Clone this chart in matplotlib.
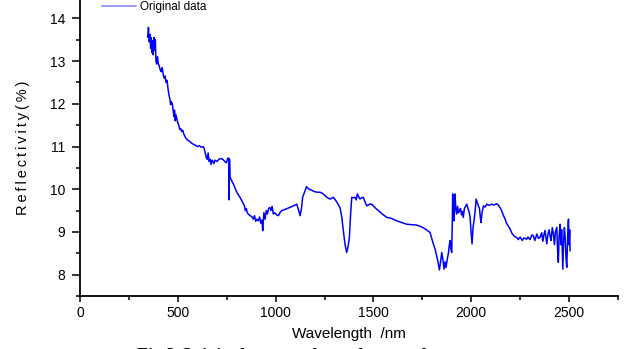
import matplotlib
matplotlib.use("Agg")
import matplotlib.pyplot as plt
from matplotlib.ticker import MultipleLocator

plt.rcParams['font.family'] = ['Liberation Sans', 'DejaVu Sans']

wavelength = [346, 350, 354, 358, 361, 364, 367, 370, 374, 378, 381, 385, 388, 392, 396, 400,
              405, 410, 415, 420, 425, 430, 435, 440, 445, 450, 455, 460, 463, 467, 472, 476,
              480, 483, 487, 490, 495, 500, 505, 510, 515, 520, 525, 530, 540, 550, 560, 570,
              580, 590, 600, 610, 620, 630, 635, 640, 645, 650, 655, 660, 665, 670, 675, 680,
              685, 690, 700, 710, 720, 730, 740, 748, 755, 760, 762, 764, 767, 775, 784, 795,
              805, 818, 830, 840, 845, 850, 855, 860, 870, 880, 886, 892, 898, 905, 912, 918,
              925, 930, 934, 940, 946, 952, 958, 964, 971, 976, 982, 988, 995, 1005, 1014, 1022,
              1031, 1050, 1070, 1091, 1108, 1118, 1125, 1132, 1138, 1145, 1158, 1170, 1183, 1200,
              1215, 1227, 1240, 1253, 1265, 1278, 1295, 1310, 1329, 1338, 1346, 1355, 1363, 1370,
              1377, 1383, 1389, 1397, 1406, 1412, 1418, 1425, 1431, 1440, 1448, 1457, 1466, 1480,
              1491, 1505, 1525, 1545, 1568, 1590, 1619, 1645, 1670, 1695, 1721, 1745, 1764, 1780,
              1789, 1798, 1806, 1815, 1823, 1830, 1837, 1843, 1849, 1855, 1861, 1866, 1871, 1877,
              1883, 1888, 1892, 1896, 1900, 1903, 1905, 1908, 1912, 1915, 1917, 1921, 1925, 1930,
              1935, 1939, 1945, 1950, 1955, 1959, 1965, 1971, 1977, 1983, 1990, 1994, 1999, 2004,
              2009, 2014, 2020, 2025, 2030, 2036, 2042, 2046, 2050, 2055, 2062, 2070, 2079, 2090,
              2104, 2115, 2130, 2140, 2147, 2155, 2163, 2173, 2180, 2188, 2198, 2210, 2220, 2232,
              2240, 2250, 2260, 2270, 2283, 2290, 2300, 2310, 2317, 2325, 2335, 2343, 2351, 2360,
              2366, 2372, 2377, 2382, 2386, 2392, 2398, 2403, 2408, 2414, 2420, 2425, 2430, 2437,
              2441, 2445, 2449, 2454, 2458, 2462, 2468, 2472, 2476, 2480, 2484, 2488, 2492, 2495,
              2497, 2500, 2503, 2505]

reflectivity = [13.56, 13.79, 13.45, 13.62, 13.30, 13.55, 13.20, 13.48, 13.15, 13.55, 13.25, 13.50,
                13.00, 12.93, 13.10, 12.95, 12.88, 12.80, 12.75, 12.85, 12.70, 12.60, 12.65, 12.50,
                12.55, 12.35, 12.20, 12.10, 11.98, 12.05, 12.00, 11.85, 11.70, 11.85, 11.60, 11.75,
                11.65, 11.55, 11.50, 11.40, 11.42, 11.35, 11.38, 11.30, 11.20, 11.15, 11.12, 11.08,
                11.05, 11.03, 11.00, 11.02, 10.98, 11.00, 10.95, 10.85, 10.75, 10.70, 10.85, 10.65,
                10.70, 10.58, 10.68, 10.65, 10.60, 10.68, 10.65, 10.70, 10.72, 10.70, 10.65, 10.62,
                10.72, 10.73, 9.75, 10.70, 10.28, 10.20, 10.12, 10.00, 9.90, 9.81, 9.70, 9.62,
                9.50, 9.55, 9.45, 9.42, 9.38, 9.35, 9.30, 9.38, 9.25, 9.30, 9.26, 9.35,
                9.20, 9.28, 9.03, 9.45, 9.30, 9.50, 9.42, 9.55, 9.57, 9.50, 9.60, 9.42,
                9.45, 9.40, 9.38, 9.45, 9.50, 9.53, 9.57, 9.61, 9.65, 9.50, 9.38, 9.55,
                9.81, 9.90, 10.06, 10.00, 9.98, 9.94, 9.93, 9.93, 9.90, 9.85, 9.80, 9.77,
                9.81, 9.72, 9.57, 9.35, 9.03, 8.70, 8.52, 8.65, 8.87, 9.40, 9.81, 9.80,
                9.81, 9.75, 9.89, 9.82, 9.77, 9.80, 9.81, 9.70, 9.61, 9.65, 9.65, 9.58,
                9.50, 9.42, 9.34, 9.32, 9.26, 9.22, 9.18, 9.17, 9.16, 9.12, 9.07, 9.02,
                8.99, 8.85, 8.72, 8.60, 8.44, 8.30, 8.11, 8.30, 8.52, 8.35, 8.13, 8.30,
                8.17, 8.35, 8.50, 8.70, 8.80, 8.60, 8.52, 9.20, 9.89, 9.40, 9.26, 9.70,
                9.89, 9.55, 9.42, 9.60, 9.45, 9.50, 9.55, 9.40, 9.48, 9.34, 9.55, 9.60,
                9.65, 9.55, 9.45, 9.34, 9.00, 8.72, 9.10, 9.26, 9.50, 9.77, 9.70, 9.61,
                9.55, 9.35, 9.22, 9.45, 9.61, 9.58, 9.65, 9.62, 9.65, 9.63, 9.66, 9.62,
                9.57, 9.50, 9.40, 9.30, 9.20, 9.15, 9.07, 8.95, 8.90, 8.87, 8.82, 8.88,
                8.80, 8.86, 8.83, 8.88, 8.82, 8.93, 8.91, 8.80, 8.95, 8.85, 8.87, 8.98,
                8.78, 8.95, 9.03, 8.85, 8.72, 8.95, 9.05, 8.90, 8.80, 9.10, 8.95, 8.70,
                9.00, 9.11, 8.60, 8.29, 8.90, 9.18, 8.70, 9.05, 8.13, 8.80, 9.10, 8.87,
                8.40, 8.17, 8.80, 9.20, 9.30, 8.70, 9.05, 8.56]

fig = plt.figure(figsize=(6.31, 3.49), dpi=100)
ax = fig.add_axes([80/631, 1 - 296/349, 538/631, 296/349])

ax.plot(wavelength, reflectivity, color='#0000ff', lw=1.1, label='Original data')

ax.set_xlim(0, 2750)
ax.set_ylim(7.5, 14.43)
ax.xaxis.set_major_locator(MultipleLocator(500))
ax.xaxis.set_minor_locator(MultipleLocator(250))
ax.yaxis.set_minor_locator(MultipleLocator(0.5))
ax.set_yticks([8, 9, 10, 11, 12, 13, 14])

for s in ['top', 'right']:
    ax.spines[s].set_visible(False)
for s in ['left', 'bottom']:
    ax.spines[s].set_linewidth(1.3)

ax.tick_params(axis='both', which='both', direction='out', width=1.1, labelsize=10)
ax.tick_params(axis='y', which='major', length=5.5, pad=5)
ax.tick_params(axis='y', which='minor', length=3)
ax.tick_params(axis='x', which='major', length=4.5, pad=3)
ax.tick_params(axis='x', which='minor', length=3)

ax.set_xlabel('Wavelength  /nm', fontsize=11)
ax.set_ylabel('\u2009'.join('Reflectivity(%)'), fontsize=10.5,
              family=['Liberation Sans', 'DejaVu Sans'])
ax.yaxis.set_label_coords(-0.093, 0.5)
ax.xaxis.set_label_coords(0.5, -0.105)

leg = ax.legend(loc='center left', bbox_to_anchor=(0.041, 0.975), frameon=False,
                fontsize=8.5, handlelength=2.9, handletextpad=0.35, borderpad=0,
                borderaxespad=0)
leg.get_lines()[0].set_color('#7f7fff')

fig.text(137/631, 1 - 361/349, 'Fig.3 Original spectra from the samples',
         fontsize=13, fontweight='bold', family=['Liberation Serif', 'DejaVu Serif'],
         ha='left', va='baseline')

fig.savefig('out.png', dpi=100)
